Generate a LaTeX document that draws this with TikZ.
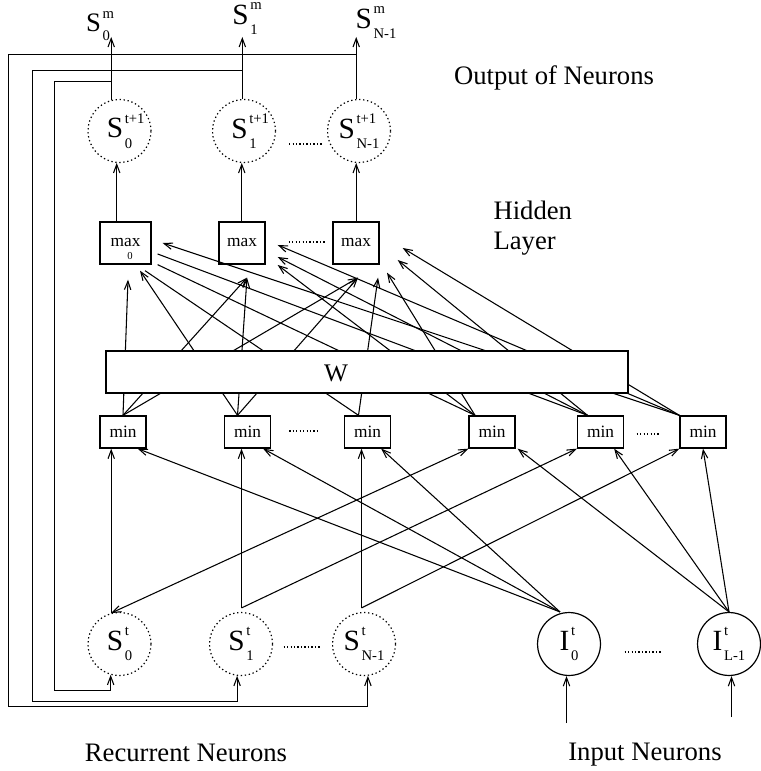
\documentclass[tikz,border=0pt]{standalone}
\usepackage{fontspec}
\setmainfont{Liberation Serif}
\usetikzlibrary{positioning,arrows.meta,calc}

\newcommand{\ssz}{\fontsize{5.5}{6}\selectfont}
\newcommand{\neur}[3]{#1\kern0.6pt\raisebox{0.5em}{\makebox[0pt][l]{\ssz #2}}\raisebox{-0.35em}{\ssz #3}}

\begin{document}
\begin{tikzpicture}[x=0.375pt,y=-0.375pt,
 >={Straight Barb[length=3.2pt,width=2.4pt]},
 wire/.style={line width=0.4pt},
 arr/.style={wire,->},
 twoway/.style={wire,<->},
 dotline/.style={line width=0.5pt,dash pattern=on 0.5pt off 0.8pt},
 neuron/.style={circle,draw,line width=0.45pt,minimum size=23.6pt,inner sep=0pt,
                font=\fontsize{11}{13}\selectfont},
 recur/.style={neuron,dash pattern=on 0.5pt off 1pt},
 minbox/.style={draw,line width=0.5pt,minimum width=17.25pt,minimum height=12pt,
                inner sep=0pt,font=\fontsize{6.5}{7}\selectfont},
 maxbox/.style={minbox,minimum height=15.75pt},
 wbox/.style={draw,fill=white,line width=0.5pt,minimum width=195.75pt,
              minimum height=15.75pt,inner sep=0pt},
 lbl/.style={font=\fontsize{10}{12}\selectfont}
]
\useasboundingbox (0,0) rectangle (760,771);

% output neurons
\node[recur] (os0) at (119.5,131) {\neur{S}{t+1}{0}};
\node[recur] (os1) at (244,131) {\neur{S}{t+1}{1}};
\node[recur] (os2) at (359,131) {\neur{S}{t+1}{N-1}};
\node[font=\fontsize{10}{12}\selectfont] (sm0) at (98,26) {\neur{S}{m}{0}};
\node[font=\fontsize{11}{13}\selectfont] (sm1) at (245,19) {\neur{S}{m}{1}};
\node[font=\fontsize{11}{13}\selectfont] (sm2) at (376,23) {\neur{S}{m}{N-1}};

% hidden layer
\node[maxbox,minimum width=19.1pt] (mx0) at (125.5,243) {max};
\node[font=\fontsize{4}{4}\selectfont] (mx0sub) at ($(mx0.center)+(4.5,13)$) {0};
\node[maxbox] (mx1) at (242,243) {max};
\node[maxbox] (mx2) at (356,243) {max};

\node[minbox] (mn0) at (123,432) {min};
\node[minbox] (mn1) at (247.5,432) {min};
\node[minbox] (mn2) at (367.5,432) {min};
\node[minbox] (mn3) at (492,432) {min};
\node[minbox] (mn4) at (600.5,432) {min};
\node[minbox] (mn5) at (703,432) {min};

% recurrent and input neurons
\node[recur] (rs0) at (119.5,644) {\neur{S}{t}{0}};
\node[recur] (rs1) at (241,644) {\neur{S}{t}{1}};
\node[recur] (rs2) at (364,644) {\neur{S}{t}{N-1}};
\node[neuron] (in0) at (569,644) {\neur{I}{t}{0}};
\node[neuron] (in1) at (729,644) {\neur{I}{t}{L-1}};

\coordinate (mt0) at (mn0.north);
\coordinate (mt1) at ($(mn1.north)+(-10,0)$);
\coordinate (mt2) at ($(mn2.north)+(-9,0)$);
\coordinate (mt3) at ($(mn3.north)+(-17,0)$);
\coordinate (mt4) at ($(mn4.north)+(-13,0)$);
\coordinate (mt5) at (mn5.north west);

% min -> max through W
\draw[arr] (mt0) -- ($(mx0.south)+(2.5,15)$);
\draw[arr] (mt1) -- ($(mx0.south)+(14.5,6)$);
\draw[wire] (mt2) -- ($(mx0.south)+(19.5,6)$);
\draw[wire] (mt3) -- ($(mx0.south east)+(6,0)$);
\draw[wire] (mt4) -- ($(mx0.east)+(6,11)$);
\draw[arr] (mt5) -- ($(mx0.east)+(11,0)$);
\draw[arr] (mt0) -- ($(mx1.south)+(5,13)$);
\draw[arr] (mt1) -- ($(mx1.south)+(5,13)$);
\draw[arr] (mt3) -- ($(mx1.east)+(12,22)$);
\draw[arr] (mt4) -- ($(mx1.east)+(12,14)$);
\draw[arr] (mt5) -- ($(mx1.east)+(12,2)$);
\draw[arr] (mt0) -- ($(mx2.south)+(2,13)$);
\draw[arr] (mt1) -- ($(mx2.south)+(2,13)$);
\draw[arr] (mt2) -- ($(mx2.south)+(22,13)$);
\draw[arr] (mt3) -- ($(mx2.south)+(31,8)$);
\draw[arr] (mt4) -- ($(mx2.east)+(18,17)$);
\draw[arr] (mt5) -- ($(mx2.east)+(23,5)$);

\node[wbox] (wgt) at (367,372) {};
\node[font=\fontsize{9.5}{11}\selectfont] (wlbl) at (336,373) {W};

% max -> output
\draw[arr] (os0.265 |- mx0.north) -- (os0.265);
\draw[arr] (os1.266 |- mx1.north) -- (os1.266);
\draw[arr] (os2.265 |- mx2.north) -- (os2.265);

\coordinate (otop) at (0,37);
\draw[arr] (os0.105) -- (os0.105 |- otop);
\draw[arr] (os1.93) -- (os1.93 |- otop);
\draw[arr] (os2.95) -- (os2.95 |- otop);

% feedback loops
\coordinate (fa0) at (54.5,81.5);  \coordinate (fb0) at (54.5,690.5);
\coordinate (fa1) at (32.5,70.5);  \coordinate (fb1) at (32.5,701.5);
\coordinate (fa2) at (8.5,54.5);   \coordinate (fb2) at (8.5,706.5);
\draw[arr] (os0.105 |- fa0) -- (fa0) -- (fb0) -- (fb0 -| rs0.254) -- (rs0.254);
\draw[arr] (os1.93 |- fa1) -- (fa1) -- (fb1) -- (fb1 -| rs1.263) -- (rs1.263);
\draw[arr] (os2.95 |- fa2) -- (fa2) -- (fb2) -- (fb2 -| rs2.277) -- (rs2.277);

% recurrent -> min
\coordinate (rt1) at ($(rs1.north)+(0.5,-4)$);
\coordinate (rt2) at ($(rs2.north)+(-2.5,-4)$);
\draw[arr] (rs0.105) -- (rs0.105 |- mn0.south);
\draw[arr] (rt1) -- (rt1 |- mn1.south);
\draw[arr] (rt2) -- (rt2 |- mn2.south);
\draw[twoway] (rs0.105) -- (mn3.south west);
\draw[arr] (rt1) -- (mn4.south west);
\draw[arr] (rt2) -- (mn5.south west);

% input -> min
\coordinate (it0) at ($(in0.north)+(-9,0)$);
\draw[arr] (it0) -- ($(mn0.south east)+(-9,0)$);
\draw[arr] (it0) -- ($(mn1.south east)+(-8,0)$);
\draw[arr] (it0) -- ($(mn2.south east)+(-10,0)$);
\draw[arr] (in1.north) -- ($(mn3.south east)+(2,0)$);
\draw[arr] (in1.north) -- ($(mn4.south east)+(-10,0)$);
\draw[arr] (in1.north) -- (mn5.south);

\coordinate (ip0) at (566.5,723);
\coordinate (ip1) at (731.5,717);
\draw[arr] (ip0) -- (ip0 |- in0.south);
\draw[arr] (ip1) -- (ip1 |- in1.south);

% dot leaders
\draw[dotline] ($(os1.east)+(13,13)$) -- ($(os2.west)+(-5,13)$);
\draw[dotline] ($(mx1.east)+(23,-1)$) -- ($(mx2.west)+(-6,-1)$);
\draw[dotline] ($(mn1.east)+(18,-1)$) -- ($(mn2.west)+(-26,-1)$);
\draw[dotline] ($(mn4.east)+(12.5,2)$) -- ($(mn5.west)+(-19,2)$);
\draw[dotline] ($(rs1.east)+(10.5,3)$) -- ($(rs2.west)+(-10.5,3)$);
\draw[dotline] ($(in0.east)+(23.5,8)$) -- ($(in1.west)+(-34.5,8)$);

% texts
\node[lbl] (outlbl) at (554,78) {Output of Neurons};
\node[lbl,anchor=west,inner sep=0pt] (hid) at (493,210) {Hidden};
\node[lbl,anchor=west,inner sep=0pt] (lay) at (493,244) {Layer};
\node[lbl] (reclbl) at (186,753) {Recurrent Neurons};
\node[lbl] (inlbl) at (645,755) {Input Neurons};
\end{tikzpicture}
\end{document}
